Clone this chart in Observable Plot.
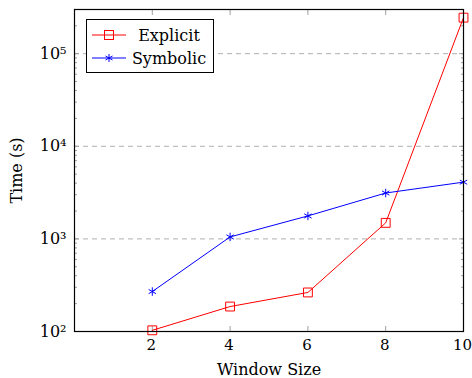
<!DOCTYPE html>
<html>
<head>
<meta charset="utf-8">
<script src="https://cdn.jsdelivr.net/npm/d3@7"></script>
<script src="https://cdn.jsdelivr.net/npm/@observablehq/plot@0.6"></script>
<style>
  html, body { margin: 0; padding: 0; background: #fff; }
  #wrap { position: relative; width: 472px; height: 378px; font-family: "DejaVu Serif", serif; }
  #legend { position: absolute; left: 86px; top: 19px; width: 128px; height: 54px; border: 1px solid #000; background: #fff; box-sizing: border-box; }
  .entry { position: absolute; left: 5px; width: 120px; height: 22px; display: flex; align-items: center; font-size: 16px; color: #000; }
  .entry svg { display: block; flex: none; }
  .entry span { flex: 1; text-align: center; }
</style>
</head>
<body>
<div id="wrap"></div>
<script>
const windowSize = [2, 4, 6, 8, 10];
const explicitTime = [103, 186, 264, 1490, 245000];
const symbolicTime = [270, 1050, 1770, 3130, 4100];
const seriesNames = ["Explicit", "Symbolic"];
const seriesColors = ["#ff0000", "#0000ff"];
const xTicks = [2, 4, 6, 8, 10];
const yMajor = [1e2, 1e3, 1e4, 1e5];
const yGrid = [1e3, 1e4, 1e5];
const supers = {"2": "²", "3": "³", "4": "⁴", "5": "⁵"};

const explicitData = windowSize.map((x, i) => ({x, y: explicitTime[i]}));
const symbolicData = windowSize.map((x, i) => ({x, y: symbolicTime[i]}));
const yMinor = [];
for (let e = 2; e <= 5; e++) for (let m = 2; m <= 9; m++) { const v = m * 10 ** e; if (v <= 3e5) yMinor.push(v); }

const tickColor = "#a0a0a0";

const chart = Plot.plot({
  width: 472, height: 378,
  marginLeft: 74, marginRight: 9, marginTop: 9, marginBottom: 47,
  style: {fontFamily: "DejaVu Serif, serif", fontSize: "16px", background: "#fff", color: "#000"},
  x: {domain: [0, 10]},
  y: {type: "log", domain: [100, 3e5]},
  marks: [
    Plot.gridY(yGrid, {stroke: "#b0b0b0", strokeOpacity: 1, strokeDasharray: "5,4"}),
    Plot.axisX(xTicks, {anchor: "bottom", tickSize: 0, tickPadding: 8, fontSize: 15, dx: -1, tickFormat: d => String(d), label: null}),
    Plot.axisX(xTicks, {anchor: "bottom", tickSize: 0, tickFormat: () => "", label: "Window Size", labelAnchor: "center", labelArrow: "none", labelOffset: 43}),
    Plot.axisX(xTicks, {anchor: "bottom", tickSize: -5, tickFormat: () => "", label: null, stroke: tickColor}),
    Plot.axisX(xTicks, {anchor: "top", tickSize: -5, tickFormat: () => "", label: null, stroke: tickColor}),
    Plot.axisY(yMajor, {anchor: "left", tickSize: 0, tickPadding: 8, tickFormat: d => "10" + supers[String(Math.round(Math.log10(d)))], label: "Time (s)", labelAnchor: "center", labelArrow: "none", labelOffset: 64}),
    Plot.axisY(yMajor, {anchor: "left", tickSize: -5, tickFormat: () => "", label: null, stroke: tickColor}),
    Plot.axisY(yMajor, {anchor: "right", tickSize: -5, tickFormat: () => "", label: null, stroke: tickColor}),
    Plot.axisY(yMinor, {anchor: "left", tickSize: -3, tickFormat: () => "", label: null, stroke: tickColor}),
    Plot.axisY(yMinor, {anchor: "right", tickSize: -3, tickFormat: () => "", label: null, stroke: tickColor}),
    Plot.line(explicitData, {x: "x", y: "y", stroke: seriesColors[0], strokeWidth: 1}),
    Plot.line(symbolicData, {x: "x", y: "y", stroke: seriesColors[1], strokeWidth: 1}),
    Plot.dot(explicitData, {x: "x", y: "y", symbol: "square", r: 5, stroke: seriesColors[0], fill: "none", strokeWidth: 1}),
    Plot.dot(symbolicData, {x: "x", y: "y", symbol: "asterisk", r: 4, stroke: seriesColors[1], strokeWidth: 1}),
    Plot.frame({stroke: "#000", strokeWidth: 1.2})
  ]
});

const wrap = document.getElementById("wrap");
wrap.appendChild(chart);

const legend = document.createElement("div");
legend.id = "legend";
const markerSvg = [
  `<svg width="34" height="14"><line x1="0" y1="7" x2="34" y2="7" stroke="${seriesColors[0]}"/><rect x="12.5" y="2.5" width="9" height="9" fill="none" stroke="${seriesColors[0]}"/></svg>`,
  `<svg width="34" height="14"><line x1="0" y1="7" x2="34" y2="7" stroke="${seriesColors[1]}"/><g stroke="${seriesColors[1]}"><line x1="17" y1="3" x2="17" y2="11"/><line x1="13.5" y1="5" x2="20.5" y2="9"/><line x1="13.5" y1="9" x2="20.5" y2="5"/></g></svg>`
];
seriesNames.forEach((name, i) => {
  const e = document.createElement("div");
  e.className = "entry";
  e.style.top = (4 + i * 23) + "px";
  e.innerHTML = markerSvg[i] + `<span>${name}</span>`;
  legend.appendChild(e);
});
wrap.appendChild(legend);
</script>
</body>
</html>
